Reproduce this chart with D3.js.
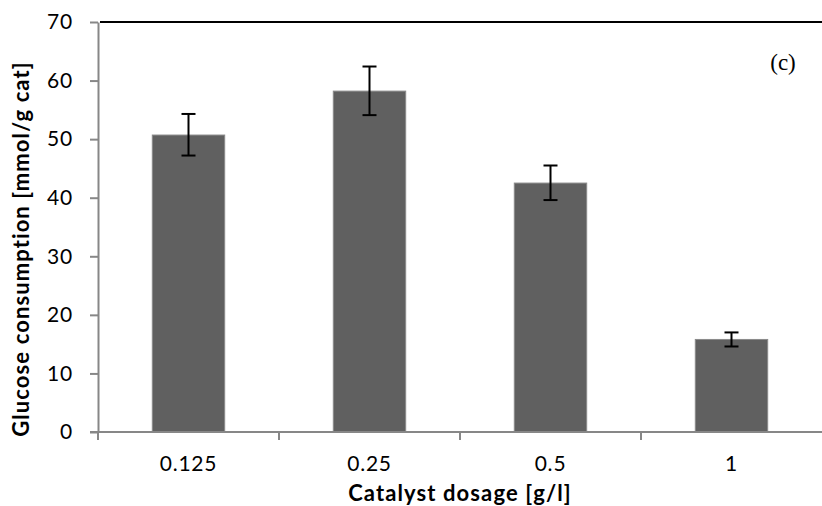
<!DOCTYPE html>
<html>
<head>
<meta charset="utf-8">
<script src="https://cdn.jsdelivr.net/npm/d3@7"></script>
<style>
  body { margin: 0; background: #fff; }
  text { font-family: Lato, "Open Sans", sans-serif; }
</style>
</head>
<body>
<svg id="chart"></svg>
<script>
const categories = ["0.125", "0.25", "0.5", "1"];
const values = [50.7, 58.2, 42.5, 15.8];
const errLow = [47.2, 54.1, 39.6, 14.6];
const errHigh = [54.3, 62.4, 45.5, 17.0];
const yTicks = [0, 10, 20, 30, 40, 50, 60, 70];

const width = 822, height = 506;
const margin = { top: 22, right: 0, bottom: 74, left: 98 };
const w = width - margin.left - margin.right;
const h = height - margin.top - margin.bottom;

const svg = d3.select('#chart').attr('width', width).attr('height', height);
const main = svg.append('g').attr('transform', `translate(${margin.left},${margin.top})`);

const x = d3.scaleBand().domain(categories).range([0, w]).paddingInner(0.6).paddingOuter(0.3);
const xb = d3.scaleBand().domain(categories).range([0, w]);
const y = d3.scaleLinear().domain([0, 70]).range([h, 0]);

// top border
main.append('line')
  .attr('x1', 2).attr('x2', w).attr('y1', 0).attr('y2', 0)
  .attr('stroke', '#000').attr('stroke-width', 2);

// bars
main.selectAll('rect.bar').data(values).enter().append('rect')
  .attr('class', 'bar')
  .attr('x', (d, i) => x(categories[i]))
  .attr('width', x.bandwidth())
  .attr('y', d => y(d))
  .attr('height', d => h - y(d))
  .attr('fill', '#606060')
  .attr('stroke', '#8a8a8a').attr('stroke-width', 1);

// error bars
const eb = main.append('g').selectAll('g').data(values).enter().append('g')
  .attr('transform', (d, i) => `translate(${x(categories[i]) + x.bandwidth() / 2},0)`)
  .attr('stroke', '#000').attr('stroke-width', 2);
eb.append('line').attr('y1', (d, i) => y(errLow[i])).attr('y2', (d, i) => y(errHigh[i]));
eb.append('line').attr('x1', -7).attr('x2', 7).attr('y1', (d, i) => y(errLow[i])).attr('y2', (d, i) => y(errLow[i]));
eb.append('line').attr('x1', -7).attr('x2', 7).attr('y1', (d, i) => y(errHigh[i])).attr('y2', (d, i) => y(errHigh[i]));

// y axis
const yAxis = main.append('g')
  .call(d3.axisLeft(y).tickValues(yTicks).tickSize(8).tickSizeOuter(0).tickPadding(17));
yAxis.select('.domain').attr('stroke', '#878787').attr('stroke-width', 2);
yAxis.selectAll('.tick line').attr('stroke', '#878787').attr('stroke-width', 2);
yAxis.selectAll('.tick text').attr('font-size', 21).attr('fill', '#000')
  .attr('letter-spacing', 0.8)
  .style('font-family', 'Lato, sans-serif');

// x axis
const xAxis = main.append('g').attr('transform', `translate(0,${h})`)
  .call(d3.axisBottom(x).tickSize(0).tickPadding(24));
xAxis.select('.domain').attr('d', `M-8,0H${w}`).attr('stroke', '#878787').attr('stroke-width', 2);
xAxis.selectAll('.tick text').attr('font-size', 21).attr('fill', '#000')
  .attr('letter-spacing', 0.8)
  .style('font-family', 'Lato, sans-serif');
main.append('g').selectAll('line').data(categories).enter().append('line')
  .attr('x1', d => xb(d)).attr('x2', d => xb(d))
  .attr('y1', h).attr('y2', h + 8)
  .attr('stroke', '#878787').attr('stroke-width', 2);

// axis titles
svg.append('text')
  .attr('x', 460).attr('y', 501)
  .attr('text-anchor', 'middle').attr('font-size', 22).attr('font-weight', 'bold')
  .attr('letter-spacing', 1.1)
  .text('Catalyst dosage [g/l]');
svg.append('text')
  .attr('transform', `translate(29,249) rotate(-90)`)
  .attr('text-anchor', 'middle').attr('font-size', 22).attr('font-weight', 'bold')
  .attr('letter-spacing', 1.1)
  .text('Glucose consumption [mmol/g cat]');

// panel label
svg.append('text')
  .attr('x', 783).attr('y', 70).attr('text-anchor', 'middle')
  .attr('font-size', 23).style('font-family', '"Liberation Serif", "DejaVu Serif", serif')
  .text('(c)');
</script>
</body>
</html>
